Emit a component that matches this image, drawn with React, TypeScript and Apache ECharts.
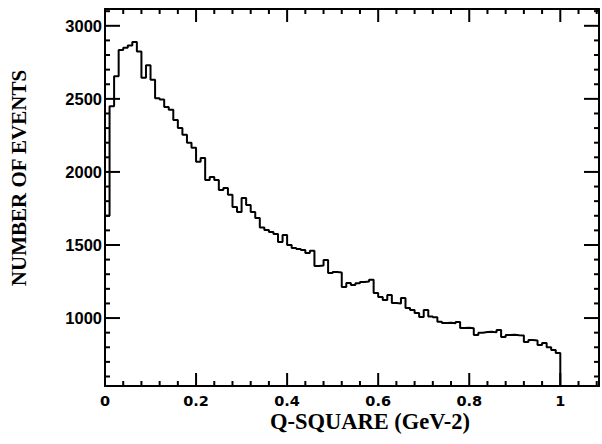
import React, { useEffect, useRef } from "react";
import * as echarts from "echarts";

// Histogram: 100 bins of width 0.01 on Q-square (GeV-2)
const binWidth = 0.01;
const counts = [
  1700, 2450, 2655, 2835, 2850, 2865, 2890, 2825, 2645, 2730,
  2630, 2505, 2495, 2445, 2425, 2355, 2300, 2255, 2200, 2165,
  2070, 2095, 1945, 1966, 1945, 1877, 1890, 1843, 1760, 1726,
  1822, 1774, 1726, 1685, 1620, 1603, 1589, 1575, 1521, 1569,
  1500, 1480, 1473, 1466, 1445, 1460, 1356, 1360, 1397, 1308,
  1315, 1312, 1212, 1240, 1226, 1238, 1247, 1250, 1262, 1171,
  1144, 1123, 1158, 1103, 1100, 1137, 1068, 1055, 1034, 1007,
  1055, 1010, 1005, 975, 966, 968, 964, 973, 932, 934,
  930, 884, 900, 904, 906, 902, 918, 870, 884, 886,
  882, 880, 836, 849, 847, 815, 829, 801, 781, 760,
];

const xMajorTicks = [0, 0.2, 0.4, 0.6, 0.8, 1.0];
const xTickLabels = ["0", "0.2", "0.4", "0.6", "0.8", "1"];
const yMajorTicks = [1000, 1500, 2000, 2500, 3000];
const yTickLabels = ["1000", "1500", "2000", "2500", "3000"];

const X_MIN = 0;
const X_MAX = 1.085;
const Y_MIN = 535;
const Y_MAX = 3115;

const xMinorTicks: number[] = [];
for (let k = 1; k * 0.04 < X_MAX; k++) {
  if (k % 5 !== 0) xMinorTicks.push(Math.round(k * 0.04 * 1000) / 1000);
}
const yMinorTicks: number[] = [];
for (let v = 600; v < Y_MAX; v += 100) {
  if (v % 500 !== 0) yMinorTicks.push(v);
}

const W = 602;
const H = 444;
const GRID = { left: 105, right: 3, top: 9, bottom: 58 };

export default function App() {
  const ref = useRef<HTMLDivElement>(null);

  useEffect(() => {
    if (!ref.current) return;
    const chart = echarts.init(ref.current, null, { renderer: "svg" });

    const histData: number[][] = [[0, Y_MIN]];
    counts.forEach((c, i) => histData.push([+(i * binWidth).toFixed(3), c]));
    const xEnd = +(counts.length * binWidth).toFixed(3);
    histData.push([xEnd, counts[counts.length - 1]]);
    histData.push([xEnd, Y_MIN]);

    const black = "#000";

    const xLabelFmt = (v: number) => {
      const idx = xMajorTicks.findIndex((t) => Math.abs(t - v) < 1e-6);
      return idx >= 0 ? xTickLabels[idx] : "";
    };
    const yLabelFmt = (v: number) => {
      const idx = yMajorTicks.findIndex((t) => Math.abs(t - v) < 1e-6);
      return idx >= 0 ? yTickLabels[idx] : "";
    };

    const baseAxisX = (position: "bottom" | "top", labels: boolean) => ({
      type: "value",
      position,
      min: X_MIN,
      max: X_MAX,
      axisLine: { show: true, onZero: false, lineStyle: { color: black, width: 2 } },
      axisTick: { show: false },
      axisLabel: labels
        ? {
            show: true,
            customValues: xMajorTicks,
            formatter: xLabelFmt,
            fontFamily: "DejaVu Sans",
            fontWeight: "bold",
            fontSize: 14.5,
            lineHeight: 12,
            color: black,
            margin: 9,
          }
        : { show: false },
      splitLine: { show: false },
    });

    const baseAxisY = (position: "left" | "right", labels: boolean) => ({
      type: "value",
      position,
      min: Y_MIN,
      max: Y_MAX,
      axisLine: { show: true, onZero: false, lineStyle: { color: black, width: 2 } },
      axisTick: { show: false },
      axisLabel: labels
        ? {
            show: true,
            customValues: yMajorTicks,
            formatter: yLabelFmt,
            fontFamily: "Liberation Sans",
            fontWeight: "bold",
            fontSize: 16.5,
            color: black,
            margin: 3,
          }
        : { show: false },
      splitLine: { show: false },
    });

    const titles = [
      {
        type: "text",
        x: 19,
        y: 178,
        rotation: Math.PI / 2,
        style: {
          text: "NUMBER OF EVENTS",
          fontFamily: "Liberation Serif",
          fontWeight: "bold",
          fontSize: 21,
          lineHeight: 20,
          fill: black,
          align: "center",
          verticalAlign: "middle",
        },
      },
      {
        type: "text",
        x: 370,
        y: 421,
        style: {
          text: "Q-SQUARE (GeV-2)",
          fontFamily: "Liberation Serif",
          fontWeight: "bold",
          fontSize: 22.5,
          lineHeight: 16,
          fill: black,
          align: "center",
          verticalAlign: "middle",
        },
      },
    ];

    chart.setOption({
      animation: false,
      backgroundColor: "#fff",
      grid: { ...GRID, containLabel: false },
      xAxis: [baseAxisX("bottom", true), baseAxisX("top", false)],
      yAxis: [baseAxisY("left", true), baseAxisY("right", false)],
      series: [
        {
          type: "line",
          xAxisIndex: 0,
          yAxisIndex: 0,
          step: "end",
          data: histData,
          showSymbol: false,
          symbol: "none",
          lineStyle: { color: black, width: 2 },
          clip: false,
          z: 3,
        },
      ],
      graphic: titles,
    });

    // pixel position through the chart's own scales (with a linear fallback)
    const plotW = W - GRID.left - GRID.right;
    const plotH = H - GRID.top - GRID.bottom;
    const toPx = (x: number, y: number): number[] => {
      let p: any = null;
      try {
        p = chart.convertToPixel({ gridIndex: 0 }, [x, y]);
      } catch (e) {
        p = null;
      }
      if (!p || !isFinite(p[0]) || !isFinite(p[1])) {
        p = [
          GRID.left + ((x - X_MIN) / (X_MAX - X_MIN)) * plotW,
          GRID.top + (1 - (y - Y_MIN) / (Y_MAX - Y_MIN)) * plotH,
        ];
      }
      return p;
    };

    const tw = 2;
    const tickEls: any[] = [];
    const addX = (v: number, len: number) => {
      const pb = toPx(v, Y_MIN);
      const pt = toPx(v, Y_MAX);
      tickEls.push({ type: "rect", z: 100, shape: { x: pb[0] - tw / 2, y: pb[1] - len, width: tw, height: len }, style: { fill: black } });
      tickEls.push({ type: "rect", z: 100, shape: { x: pt[0] - tw / 2, y: pt[1], width: tw, height: len }, style: { fill: black } });
    };
    const addY = (v: number, len: number) => {
      const pl = toPx(X_MIN, v);
      const pr = toPx(X_MAX, v);
      tickEls.push({ type: "rect", z: 100, shape: { x: pl[0], y: pl[1] - tw / 2, width: len, height: tw }, style: { fill: black } });
      tickEls.push({ type: "rect", z: 100, shape: { x: pr[0] - len, y: pr[1] - tw / 2, width: len, height: tw }, style: { fill: black } });
    };
    xMajorTicks.forEach((v) => addX(v, 13));
    xMinorTicks.forEach((v) => addX(v, 5));
    yMajorTicks.forEach((v) => addY(v, 15));
    yMinorTicks.forEach((v) => addY(v, 5));

    chart.setOption({ graphic: [...titles, ...tickEls] });

    return () => chart.dispose();
  }, []);

  return (
    <div
      ref={ref}
      style={{ position: "fixed", left: 0, top: 0, width: W, height: H, background: "#fff" }}
    />
  );
}
